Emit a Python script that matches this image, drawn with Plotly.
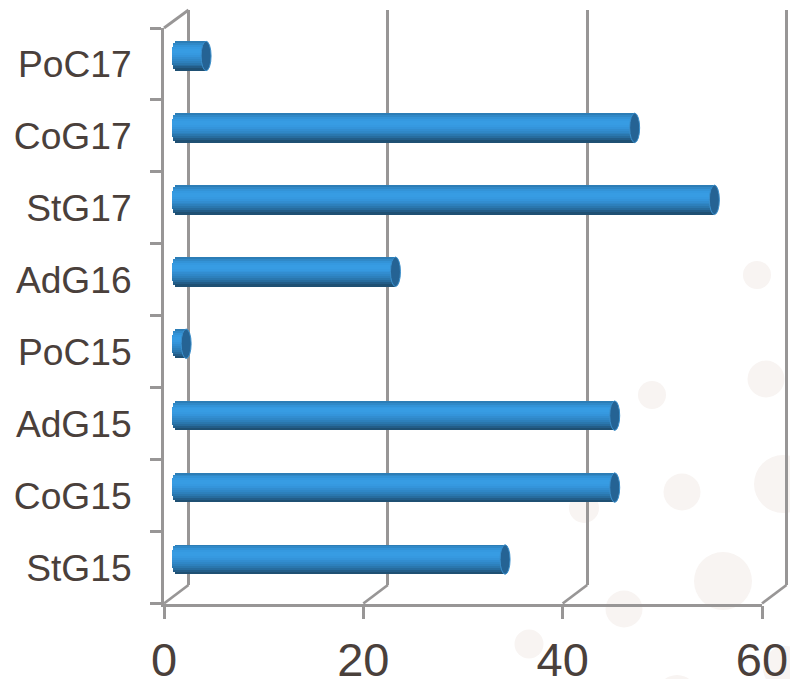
import math
import plotly.graph_objects as go

categories = ["StG15", "CoG15", "AdG15", "PoC15", "AdG16", "StG17", "CoG17", "PoC17"]
values = [34, 45, 45, 2, 23, 55, 47, 4]
x_ticks = [0, 20, 40, 60]

W, H = 790, 679
GRID = "#989696"
LINE_W = 2.8
TEXT = "#4a403b"
BUBBLE = "#f8f4f2"
CAP = "#256394"
RIM = "#3a8fcc"
SLICES = ["#2c7db6", "#3089c8", "#3393d7", "#3599e0", "#379ce3", "#379ce3", "#3699e0", "#3494da",
          "#328dd0", "#2f87c7", "#2d80bc", "#2a77ae", "#276c9e", "#235d88", "#1f5073"]
BAR_H = 29.5 / 72
CAP_HALF = 0.5
END_GAP = 0.08
LEFT_BULGE = 0.55
WALL_PAD = 0.3

bubbles = [(757, 275, 14), (652, 395, 14), (766, 379, 18.5), (682, 492, 18.5), (584, 508, 15),
           (783, 484, 29), (723, 581, 29), (624, 609, 18.5), (529, 644, 14.5), (677, 695, 20), (785, 668, 22)]

def px(v): return v / W
def py(v): return 1 - v / H

fig = go.Figure()

# front axes
fig.add_trace(go.Bar(x=[0] * len(categories), y=categories, orientation="h", marker_opacity=0,
                     showlegend=False, hoverinfo="skip"))
# back wall
fig.add_trace(go.Scatter(x=[None], y=[None], xaxis="x2", yaxis="y2", showlegend=False, hoverinfo="skip"))

n = len(SLICES)
slice_h = BAR_H / n
for i, col in enumerate(SLICES):
    t = (i + 0.5) / n * 2 - 1
    base = LEFT_BULGE * (1 - math.sqrt(max(0, 1 - t * t))) - 0.08
    fig.add_trace(go.Bar(
        x=[v - CAP_HALF - END_GAP - base for v in values], y=categories, base=base, orientation="h",
        width=slice_h * 1.15, offset=BAR_H / 2 - (i + 1) * slice_h,
        marker=dict(color=col, line_width=0), xaxis="x3", yaxis="y3", showlegend=False, hoverinfo="skip"))

shapes = []
for cx, cy, r in bubbles:
    shapes.append(dict(type="circle", xref="paper", yref="paper", layer="below",
                       x0=px(cx - r), x1=px(cx + r), y0=py(cy + r), y1=py(cy - r),
                       fillcolor=BUBBLE, line_width=0))
# floor diagonals and top-left diagonal of the 3D box
for t in x_ticks:
    xf = 164 + t * 598 / 60
    shapes.append(dict(type="line", xref="paper", yref="paper", x0=px(xf), x1=px(xf + 24.5), layer="below",
                       y0=py(603.5), y1=py(585), line=dict(color=GRID, width=LINE_W)))
shapes.append(dict(type="line", xref="paper", yref="paper", x0=px(164), x1=px(188.5), layer="below",
                   y0=py(28), y1=py(10), line=dict(color=GRID, width=LINE_W)))
# bar end caps
for v, c in zip(values, categories):
    idx = categories.index(c)
    shapes.append(dict(type="circle", xref="x3", yref="y3", layer="above",
                       x0=v - END_GAP - 2 * CAP_HALF, x1=v - END_GAP,
                       y0=idx - BAR_H / 2, y1=idx + BAR_H / 2,
                       fillcolor=CAP, line=dict(color=RIM, width=1)))

wall_px = WALL_PAD * 598 / 60
fig.update_layout(
    width=W, height=H, margin=dict(l=0, r=0, t=0, b=0, autoexpand=False), autosize=False,
    paper_bgcolor="white", plot_bgcolor="rgba(0,0,0,0)", barmode="overlay", bargap=0,
    showlegend=False, shapes=shapes,
    font=dict(family="Liberation Sans, Arial, sans-serif", color=TEXT),
    xaxis=dict(domain=[px(164), px(762)], range=[0, 60], tickvals=x_ticks, ticks="outside", ticklen=13,
               tickwidth=2.5, tickcolor=GRID, showline=True, linecolor=GRID, linewidth=LINE_W, showgrid=False,
               zeroline=False, tickfont=dict(size=47, color=TEXT), anchor="y"),
    yaxis=dict(domain=[py(603.5), py(28)], type="category", categoryorder="array", categoryarray=categories,
               range=[-0.5, 7.5], tickson="boundaries", ticks="outside", ticklen=11, tickwidth=2.5,
               tickcolor=GRID, showline=True, linecolor=GRID, linewidth=LINE_W, showgrid=False, zeroline=False,
               tickfont=dict(size=37.2, color=TEXT), anchor="x", ticklabelstandoff=22),
    xaxis2=dict(domain=[px(188.5 - wall_px), px(786.5 + wall_px)], range=[-WALL_PAD, 60 + WALL_PAD],
                tickvals=x_ticks, showgrid=True, gridcolor=GRID,
                gridwidth=LINE_W, showticklabels=False, ticks="", zeroline=False, anchor="y2"),
    yaxis2=dict(domain=[py(585), py(10)], range=[0, 1], visible=False, anchor="x2"),
    xaxis3=dict(domain=[px(172), px(770)], range=[0, 60], visible=False, anchor="y3"),
    yaxis3=dict(domain=[py(595.5), py(20)], type="category", categoryorder="array", categoryarray=categories,
                range=[-0.5, 7.5], visible=False, anchor="x3"),
)

fig.write_html("out.html", config={"displayModeBar": False},
               post_script="document.body.style.margin='0';document.body.style.overflow='hidden';")
